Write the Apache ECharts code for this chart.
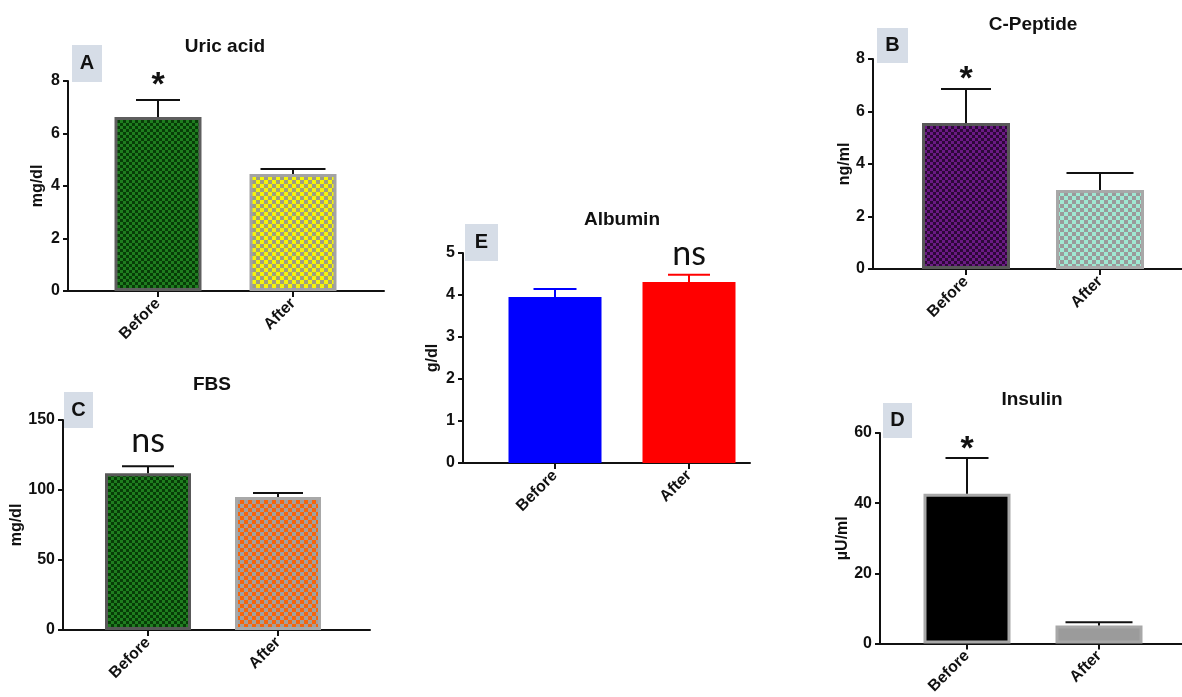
<!DOCTYPE html>
<html><head><meta charset="utf-8">
<script src="https://cdn.jsdelivr.net/npm/echarts@6/dist/echarts.min.js"></script>
<style>html,body{margin:0;padding:0;background:#fff}#c{width:1182px;height:697px}</style>
</head><body><div id="c"></div>
<script>
// ---------------- data ----------------
const categories = ['Before', 'After'];

const uricMean = [6.63, 4.46];
const uricSem  = [0.65, 0.19];
const uricSig  = ['*', ''];
const uricTicks = [0, 2, 4, 6, 8];

const cpepMean = [5.56, 3.01];
const cpepSem  = [1.30, 0.65];
const cpepSig  = ['*', ''];
const cpepTicks = [0, 2, 4, 6, 8];

const fbsMean = [112, 95];
const fbsSem  = [5, 2.9];
const fbsSig  = ['ns', ''];
const fbsTicks = [0, 50, 100, 150];

const insMean = [42.7, 5.1];
const insSem  = [10.2, 0.9];
const insSig  = ['*', ''];
const insTicks = [0, 20, 40, 60];

const albMean = [3.95, 4.31];
const albSem  = [0.19, 0.17];
const albSig  = ['', 'ns'];
const albTicks = [0, 1, 2, 3, 4, 5];

// ---------------- styles ----------------
function checker(c1, c2, s) {
  const cv = document.createElement('canvas');
  cv.width = 2 * s; cv.height = 2 * s;
  const g = cv.getContext('2d');
  g.fillStyle = c1; g.fillRect(0, 0, 2 * s, 2 * s);
  g.fillStyle = c2; g.fillRect(0, 0, s, s); g.fillRect(s, s, s, s);
  return { image: cv, repeat: 'repeat' };
}
const FONT = '"Liberation Sans", Arial, sans-serif';

const panels = [
  { letter: 'A', title: 'Uric acid', unit: 'mg/dl', mean: uricMean, sem: uricSem, sig: uricSig, ticks: uricTicks,
    L: 68, T: 81, B: 291, R: 384, c0: 158, step: 135, nameGap: 22, tx: 225, ty: 47, box: [72, 45, 30, 37],
    fills: [checker('#073d07', '#1f7d1f', 3), checker('#f4f40c', '#9c9c84', 4)],
    borders: ['#5e5e5e', '#a3a3a3'], bw: 3, barW: 87, caps: [44, 65], err: ['#111', '#111'], sigDy: -14.5 },
  { letter: 'B', title: 'C-Peptide', unit: 'ng/ml', mean: cpepMean, sem: cpepSem, sig: cpepSig, ticks: cpepTicks,
    L: 873, T: 59, B: 269, R: 1182, c0: 966, step: 134, nameGap: 18, tx: 1033, ty: 25, box: [877, 28, 31, 35],
    fills: [checker('#2d0838', '#6b1a85', 3), checker('#a0e8d2', '#9a9a9a', 4)],
    borders: ['#585858', '#a8a8a8'], bw: 3, barW: 88, caps: [50, 67], err: ['#111', '#111'], sigDy: -9.5 },
  { letter: 'C', title: 'FBS', unit: 'mg/dl', mean: fbsMean, sem: fbsSem, sig: fbsSig, ticks: fbsTicks,
    L: 63, T: 420, B: 630, R: 370, c0: 148, step: 130, nameGap: 37, tx: 212, ty: 385, box: [64, 392, 29, 36],
    fills: [checker('#073d07', '#1f7d1f', 3), checker('#f5640c', '#a0a0a0', 4)],
    borders: ['#585858', '#a8a8a8'], bw: 3, barW: 86, caps: [52, 50], err: ['#111', '#111'], sigDy: -25 },
  { letter: 'D', title: 'Insulin', unit: 'µU/ml', mean: insMean, sem: insSem, sig: insSig, ticks: insTicks,
    L: 880, T: 433, B: 644, R: 1182, c0: 967, step: 132, nameGap: 27, tx: 1032, ty: 400, box: [883, 403, 29, 35],
    fills: ['#000000', '#9b9b9b'],
    borders: ['#a8a8a8', '#a8a8a8'], bw: 3, barW: 87, caps: [43, 67], err: ['#111', '#111'], sigDy: -8 },
  { letter: 'E', title: 'Albumin', unit: 'g/dl', mean: albMean, sem: albSem, sig: albSig, ticks: albTicks,
    L: 463, T: 253, B: 463, R: 750, c0: 555, step: 134, nameGap: 22, tx: 622, ty: 220, box: [465, 224, 33, 37],
    fills: ['#0000ff', '#ff0000'],
    borders: ['#0000ff', '#ff0000'], bw: 0, barW: 93, caps: [43, 42], err: ['#0000ff', '#ff0000'], sigDy: -20.5 }
];

// ---------------- build ----------------
const grid = [], xAxis = [], yAxis = [], series = [], graphic = [];
panels.forEach((p, k) => {
  grid.push({ left: p.L, top: p.T, width: p.R - p.L, height: p.B - p.T });
  xAxis.push({
    type: 'value', gridIndex: k,
    min: (p.L - p.c0) / p.step, max: (p.R - p.c0) / p.step,
    splitLine: { show: false },
    axisLine: { onZero: false, lineStyle: { color: '#111', width: 2 } },
    axisTick: { customValues: categories.map((c, i) => i), length: 6, lineStyle: { color: '#111', width: 2 } },
    axisLabel: { customValues: categories.map((c, i) => i), rotate: 45, margin: 10,
      formatter: v => categories[Math.round(v)] || '',
      fontFamily: FONT, fontWeight: 'bold', fontSize: 16, color: '#111' }
  });
  const t = p.ticks;
  yAxis.push({
    type: 'value', gridIndex: k, min: t[0], max: t[t.length - 1], interval: t[1] - t[0],
    name: p.unit, nameLocation: 'middle', nameGap: p.nameGap,
    nameTextStyle: { fontFamily: FONT, fontWeight: 'bold', fontSize: 16, color: '#111' },
    splitLine: { show: false },
    axisLine: { show: true, onZero: false, lineStyle: { color: '#111', width: 2 } },
    axisTick: { show: true, length: 5, lineStyle: { color: '#111', width: 2 } },
    axisLabel: { margin: 8, fontFamily: FONT, fontWeight: 'bold', fontSize: 16, color: '#111' }
  });
  series.push({
    type: 'bar', xAxisIndex: k, yAxisIndex: k, barWidth: p.barW, z: 1,
    data: categories.map((c, i) => ({
      value: [i, p.mean[i]],
      itemStyle: { color: p.fills[i], borderColor: p.borders[i], borderWidth: p.bw }
    }))
  });
  series.push({
    type: 'custom', xAxisIndex: k, yAxisIndex: k, z: 3,
    data: categories.map((c, i) => [i, p.mean[i], p.sem[i]]),
    encode: { x: 0, y: 1 },
    renderItem: (params, api) => {
      const i = params.dataIndex;
      const x = api.value(0), m = api.value(1), s = api.value(2);
      const a = api.coord([x, m]), b = api.coord([x, m + s]);
      const hw = p.caps[i] / 2, col = p.err[i];
      const children = [
        { type: 'line', shape: { x1: a[0], y1: a[1], x2: b[0], y2: b[1] }, style: { stroke: col, lineWidth: 2 } },
        { type: 'line', shape: { x1: b[0] - hw, y1: b[1], x2: b[0] + hw, y2: b[1] }, style: { stroke: col, lineWidth: 2 } }
      ];
      const sg = p.sig[i];
      if (sg) {
        const ns = sg === 'ns';
        children.push({ type: 'text', x: b[0], y: b[1] + p.sigDy, style: {
          text: sg, align: 'center', verticalAlign: 'middle', fill: '#111',
          fontFamily: ns ? 'Lato, "Open Sans", sans-serif' : FONT,
          fontWeight: ns ? 'normal' : 'bold', fontSize: 34 } });
      }
      return { type: 'group', children };
    }
  });
  graphic.push({ type: 'text', x: p.tx, y: p.ty, z: 10, style: {
    text: p.title, align: 'center', verticalAlign: 'middle',
    fontFamily: FONT, fontWeight: 'bold', fontSize: 19, fill: '#111' } });
  graphic.push({ type: 'rect', shape: { x: p.box[0], y: p.box[1], width: p.box[2], height: p.box[3] },
    style: { fill: '#d6dde7' }, z: 10 });
  graphic.push({ type: 'text', x: p.box[0] + p.box[2] / 2, y: p.box[1] + p.box[3] / 2, z: 11, style: {
    text: p.letter, align: 'center', verticalAlign: 'middle',
    fontFamily: FONT, fontWeight: 'bold', fontSize: 20, fill: '#111' } });
});

const chart = echarts.init(document.getElementById('c'), null, { renderer: 'canvas' });
chart.setOption({ animation: false, backgroundColor: '#fff', grid, xAxis, yAxis, series, graphic });
</script></body></html>
